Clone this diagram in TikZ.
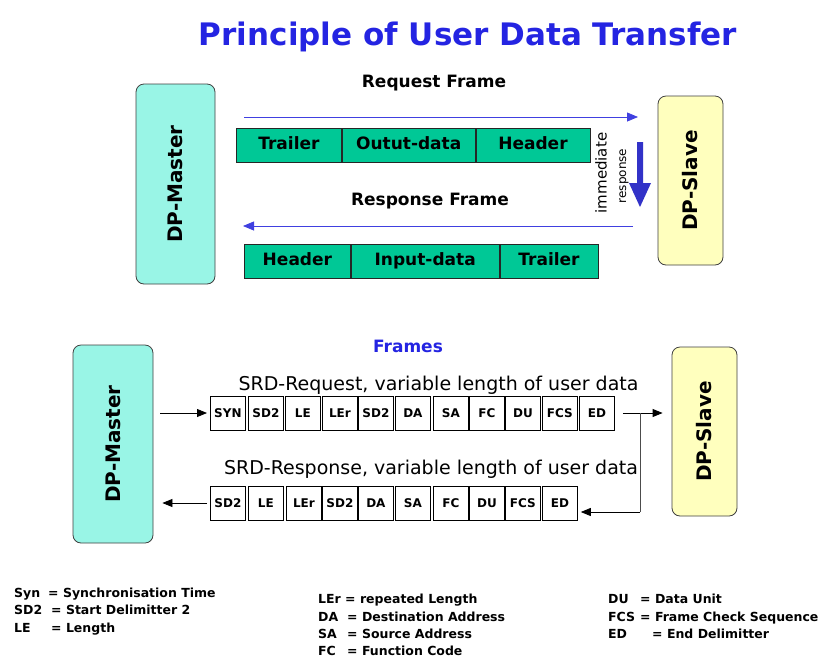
\documentclass[tikz,border=0pt]{standalone}
\usepackage{fontspec}
\setmainfont{DejaVu Sans}
\usetikzlibrary{arrows.meta}

\definecolor{titleblue}{RGB}{36,36,226}
\definecolor{arrowblue}{RGB}{64,64,224}
\definecolor{immblue}{RGB}{50,50,200}
\definecolor{framecol}{RGB}{0,200,150}
\definecolor{mastercol}{RGB}{153,245,230}
\definecolor{slavecol}{RGB}{255,255,190}

\newcommand{\fs}[1]{\fontsize{#1}{#1}\selectfont}

\tikzset{
  station/.style={draw=black!75, line width=0.8pt, rounded corners=8pt, inner sep=0pt,
                  font=\bfseries\fs{20}},
  master/.style={station, fill=mastercol},
  slave/.style={station, fill=slavecol},
  seg/.style={draw=black!85, line width=0.8pt, fill=framecol, minimum height=34pt,
              inner sep=0pt, text height=12.5pt, text depth=3.5pt, font=\bfseries\fs{17}},
  cell/.style={draw=black, line width=0.8pt, minimum width=35pt, minimum height=34pt,
               inner sep=0pt, font=\bfseries\fs{12}},
  bluearrow/.style={draw=arrowblue, line width=0.8pt, -{Triangle[length=11pt,width=9pt]}},
  flow/.style={draw=black, line width=0.8pt, -{Triangle[length=10pt,width=8pt]}},
  heading/.style={anchor=base, inner sep=0pt, font=\bfseries\fs{17}},
  srd/.style={anchor=base, inner sep=0pt, font=\fs{19}},
  legend/.style={anchor=base west, inner sep=0pt, font=\bfseries\fs{12.5}},
}

\begin{document}
\begin{tikzpicture}[x=1pt, y=-1pt]
\useasboundingbox (0,0) rectangle (823,657);
\fill[white] (0,0) rectangle (823,657);

% title
\node[anchor=base, inner sep=0pt, font=\bfseries\fs{31}, text=titleblue] (title) at (468,45)
  {Principle of User Data Transfer};

% ---------- upper part: request / response frames ----------
\node[master, minimum width=79pt, minimum height=200pt] (m1) at (175.5,184) {\rotatebox{90}{DP-Master}};
\node[slave, minimum width=65pt, minimum height=169pt] (s1) at (690.5,180.5) {\rotatebox{90}{DP-Slave}};

\node[heading] (reqlab) at (434,87) {Request Frame};
\coordinate (reqL) at (244,117);
\coordinate (reqR) at (638,117);
\draw[bluearrow] (reqL) -- (reqR);

\node[seg, minimum width=105pt, anchor=north west] (rq1) at (236,128) {Trailer};
\node[seg, minimum width=133pt, anchor=west] (rq2) at (rq1.east) {Outut-data};
\node[seg, minimum width=114pt, anchor=west] (rq3) at (rq2.east) {Header};

\node[heading] (rsplab) at (430,205) {Response Frame};
\coordinate (rspR) at (633,226);
\coordinate (rspL) at (243,226);
\draw[bluearrow] (rspR) -- (rspL);

\node[seg, minimum width=106pt, anchor=north west] (rs1) at (244,244) {Header};
\node[seg, minimum width=148pt, anchor=west] (rs2) at (rs1.east) {Input-data};
\node[seg, minimum width=98pt, anchor=west] (rs3) at (rs2.east) {Trailer};

% immediate response marker
\node[rotate=90, inner sep=0pt, font=\fs{15}] (imm) at (601,173) {immediate};
\node[rotate=90, inner sep=0pt, font=\fs{12}] (immr) at (624,176) {response};
\fill[immblue] (637,142) -- (643,142) -- (643,183) -- (651,183) -- (640,207)
  -- (629,183) -- (637,183) -- cycle;

% ---------- lower part: telegram fields ----------
\node[heading, text=titleblue] (frames) at (408,352) {Frames};

\node[master, minimum width=80pt, minimum height=198pt] (m2) at (113,444) {\rotatebox{90}{DP-Master}};
\node[slave, minimum width=65pt, minimum height=169pt] (s2) at (704.5,431.5) {\rotatebox{90}{DP-Slave}};

\node[srd] (reqtxt) at (438.5,390) {SRD-Request, variable length of user data};
\foreach \n/\x/\t in {1/210/SYN, 2/248/SD2, 3/285/LE, 4/322/LEr, 5/358/SD2, 6/395/DA,
                      7/433/SA, 8/469/FC, 9/505/DU, 10/542/FCS, 11/579/ED}
  \node[cell, anchor=west] (q\n) at (\x,413) {\t};

\node[srd] (rsptxt) at (431,474) {SRD-Response, variable length of user data};
\foreach \n/\x/\t in {1/210/SD2, 2/248/LE, 3/286/LEr, 4/322/SD2, 5/358/DA,
                      6/395/SA, 7/433/FC, 8/469/DU, 9/505/FCS, 10/542/ED}
  \node[cell, anchor=west] (p\n) at (\x,503) {\t};

\draw[flow, shorten <=7pt, shorten >=3pt] (m2.east |- q1.west) -- (q1.west);
\draw[flow, shorten <=8pt, shorten >=9pt] (q11.east) -- (s2.west |- q11.east);
\coordinate (loopT) at (640,413);
\coordinate (loopB) at (640,512);
\draw[draw=black!70, line width=0.8pt] (loopT) -- (loopB);
\draw[flow, shorten >=3pt] (loopB) -- (p10.east |- loopB);
\draw[flow, shorten <=3pt, shorten >=9pt] (p1.west) -- (m2.east |- p1.west);

% ---------- legend ----------
\node[legend] (l1a) at (14,597) {Syn};  \node[legend] (l1b) at (48,597) {= Synchronisation Time};
\node[legend] (l2a) at (14,614) {SD2};  \node[legend] (l2b) at (51,614) {= Start Delimitter 2};
\node[legend] (l3a) at (14,632) {LE};   \node[legend] (l3b) at (51,632) {= Length};

\node[legend] (l4a) at (318,603) {LEr}; \node[legend] (l4b) at (345,603) {= repeated Length};
\node[legend] (l5a) at (318,621) {DA};  \node[legend] (l5b) at (347,621) {= Destination Address};
\node[legend] (l6a) at (318,638) {SA};  \node[legend] (l6b) at (347,638) {= Source Address};
\node[legend] (l7a) at (318,655) {FC};  \node[legend] (l7b) at (347,655) {= Function Code};

\node[legend] (l8a) at (608,603) {DU};  \node[legend] (l8b) at (640,603) {= Data Unit};
\node[legend] (l9a) at (608,621) {FCS}; \node[legend] (l9b) at (640,621) {= Frame Check Sequence};
\node[legend] (l10a) at (608,638) {ED}; \node[legend] (l10b) at (652,638) {= End Delimitter};
\end{tikzpicture}
\end{document}
